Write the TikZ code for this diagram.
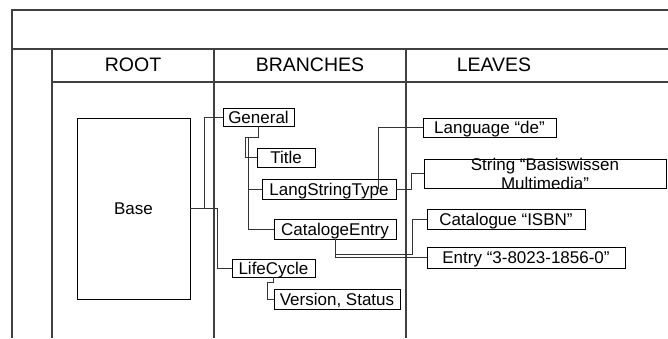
\documentclass[tikz,border=0pt]{standalone}
\usepackage{fontspec}
\setmainfont{Liberation Sans}
\begin{document}
\begin{tikzpicture}[x=1pt,y=-1pt,
  frame/.style={line width=1.1pt,draw=black!75},
  conn/.style={line width=0.8pt,draw=black!80},
  bx/.style={draw=black,line width=0.8pt,inner sep=0pt,font=\fontsize{17}{19}\selectfont,text height=13pt,text depth=1pt},
  hdr/.style={inner sep=0pt,font=\fontsize{19.5}{22}\selectfont}]
\useasboundingbox (0,0) rectangle (668,338);
% table frame
\draw[frame] (12,338) -- (12,10) -- (668,10);
\draw[frame] (12,49) -- (668,49);
\draw[frame] (52,82) -- (668,82);
\draw[frame] (52,49) -- (52,338);
\draw[frame] (214,49) -- (214,338);
\draw[frame] (406,49) -- (406,338);
% headers
\node[hdr] (hroot) at (133,65) {ROOT};
\node[hdr] (hbranch) at (310,65) {BRANCHES};
\node[hdr] (hleaves) at (494,65) {LEAVES};
% boxes
\node[bx,minimum width=113pt,minimum height=181pt] (base) at (133.5,208.5) {Base};
\node[bx,minimum width=71pt,minimum height=18pt] (general) at (258.5,117) {General};
\node[bx,minimum width=58pt,minimum height=19pt] (title) at (286,157.5) {Title};
\node[bx,minimum width=134pt,minimum height=20pt] (lst) at (329,189) {LangStringType};
\node[bx,minimum width=122pt,minimum height=20pt] (catentry) at (335,229) {CatalogeEntry};
\node[bx,minimum width=83pt,minimum height=18pt] (lifecycle) at (273.5,268) {LifeCycle};
\node[bx,minimum width=126pt,minimum height=20pt] (version) at (337,299) {Version, Status};
\node[bx,minimum width=133pt,minimum height=19pt] (language) at (489.5,127.5) {Language “de”};
\node[draw=black,line width=0.8pt,inner sep=0pt,minimum width=242pt,minimum height=29pt] (strbox) at (545,173.5) {};
\node[inner sep=0pt,align=center,font=\fontsize{17}{19}\selectfont] (strtext) at (545,173.5) {String “Basiswissen\\Multimedia”};
\node[bx,minimum width=158pt,minimum height=20pt] (catalogue) at (506,219) {Catalogue “ISBN”};
\node[bx,minimum width=198pt,minimum height=21pt] (entry) at (526,257.5) {Entry “3-8023-1856-0”};
% connectors
\draw[conn] (base.east) -- ++(14,0) |- (general.west);
\draw[conn] (base.east) -- ++(27,0) |- (lifecycle.west);
\draw[conn] (general.south) -- ++(0,11) -- ++(-13,0) |- (title.west);
\draw[conn] (general.south) -- ++(0,11) -- ++(-10,0) |- (catentry.west);
\draw[conn] (lst.west) -- ++(-13,0);
\draw[conn] ([xshift=-18pt]lst.east) |- (language.west);
\draw[conn] (lst.east) -- ++(15,0) |- (strbox.west);
\draw[conn] (catentry.south) -- ++(0,15) -- ++(77,0) |- (catalogue.west);
\draw[conn] (catentry.south) |- (entry.west);
\draw[conn] (lifecycle.south) -- ++(0,5) -- ++(-6,0) |- (version.west);
\end{tikzpicture}
\end{document}
